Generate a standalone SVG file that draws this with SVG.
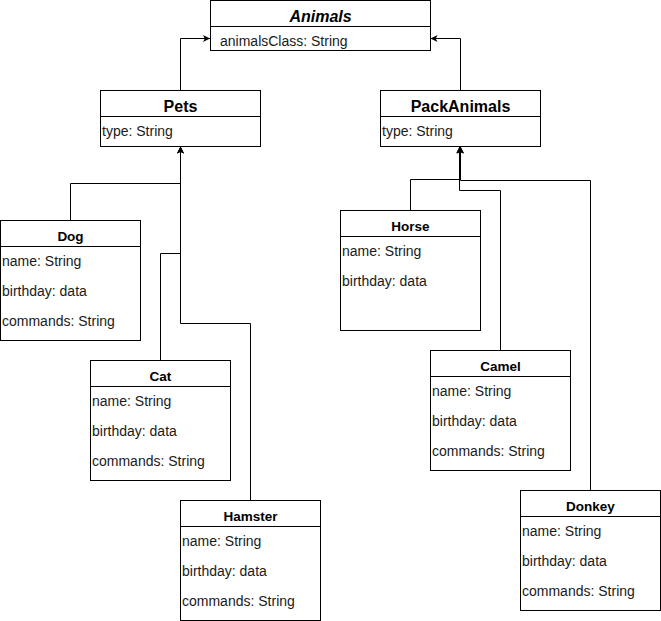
<svg xmlns="http://www.w3.org/2000/svg" width="661" height="621" viewBox="0 0 661 621">
<style>
.box{fill:#fff;stroke:#000;stroke-width:1}
.ln{fill:none;stroke:#000;stroke-width:1}
.t1{font-family:"Liberation Sans",Arial,sans-serif;font-size:16px;font-weight:bold;text-anchor:middle;fill:#000}
.t2{font-family:"Liberation Sans",Arial,sans-serif;font-size:13.5px;font-weight:bold;text-anchor:middle;fill:#000}
.a{font-family:"Liberation Sans",Arial,sans-serif;font-size:14px;fill:#1a1a1a}
.c{fill:none;stroke:#000;stroke-width:1;marker-end:url(#arr)}
</style>
<defs>
<marker id="arr" viewBox="0 0 10 10" refX="10" refY="5" markerWidth="7" markerHeight="7" markerUnits="userSpaceOnUse" orient="auto">
<path d="M0,0 L10,5 L0,10 L2.5,5 Z" fill="#000"/>
</marker>
</defs>
<g id="connectors">
<path class="c" d="M180.5,90 V38.5 H210"/>
<path class="c" d="M460.5,90 V38.5 H430.5"/>
<path class="c" d="M70.5,220 V183.5 H180.5 V146.5"/>
<path class="c" d="M160.5,360 V253.5 H180.5 V146.5"/>
<path class="c" d="M250.5,500 V323.5 H180.5 V146.5"/>
<path class="c" d="M410.5,210 V179.5 H460.5 V146.5"/>
<path class="c" d="M500.5,350 V190.5 H459.5 V146.5"/>
<path class="c" d="M590.5,490 V180.5 H460.5 V146.5"/>
</g>
<g id="Animals">
<rect class="box" x="210.5" y="0.5" width="220" height="50"/>
<line class="ln" x1="210.5" y1="26.5" x2="430.5" y2="26.5"/>
<text class="t1" x="320.5" y="22" font-style="italic">Animals</text>
<text class="a" x="220" y="46">animalsClass: String</text>
</g>
<g id="Pets">
<rect class="box" x="100.5" y="90.5" width="160" height="56"/>
<line class="ln" x1="100.5" y1="116.5" x2="260.5" y2="116.5"/>
<text class="t1" x="180.5" y="112">Pets</text>
<text class="a" x="102" y="136">type: String</text>
</g>
<g id="PackAnimals">
<rect class="box" x="380.5" y="90.5" width="160" height="56"/>
<line class="ln" x1="380.5" y1="116.5" x2="540.5" y2="116.5"/>
<text class="t1" x="460.5" y="112">PackAnimals</text>
<text class="a" x="382" y="136">type: String</text>
</g>
<g id="Dog">
<rect class="box" x="0.5" y="220.5" width="140" height="120"/>
<line class="ln" x1="0.5" y1="246.5" x2="140.5" y2="246.5"/>
<text class="t2" x="70.5" y="241">Dog</text>
<text class="a" x="2" y="266">name: String</text>
<text class="a" x="2" y="296">birthday: data</text>
<text class="a" x="2" y="326">commands: String</text>
</g>
<g id="Cat">
<rect class="box" x="90.5" y="360.5" width="140" height="120"/>
<line class="ln" x1="90.5" y1="386.5" x2="230.5" y2="386.5"/>
<text class="t2" x="160.5" y="381">Cat</text>
<text class="a" x="92" y="406">name: String</text>
<text class="a" x="92" y="436">birthday: data</text>
<text class="a" x="92" y="466">commands: String</text>
</g>
<g id="Hamster">
<rect class="box" x="180.5" y="500.5" width="140" height="120"/>
<line class="ln" x1="180.5" y1="526.5" x2="320.5" y2="526.5"/>
<text class="t2" x="250.5" y="521">Hamster</text>
<text class="a" x="182" y="546">name: String</text>
<text class="a" x="182" y="576">birthday: data</text>
<text class="a" x="182" y="606">commands: String</text>
</g>
<g id="Horse">
<rect class="box" x="340.5" y="210.5" width="140" height="120"/>
<line class="ln" x1="340.5" y1="236.5" x2="480.5" y2="236.5"/>
<text class="t2" x="410.5" y="231">Horse</text>
<text class="a" x="342" y="256">name: String</text>
<text class="a" x="342" y="286">birthday: data</text>
</g>
<g id="Camel">
<rect class="box" x="430.5" y="350.5" width="140" height="120"/>
<line class="ln" x1="430.5" y1="376.5" x2="570.5" y2="376.5"/>
<text class="t2" x="500.5" y="371">Camel</text>
<text class="a" x="432" y="396">name: String</text>
<text class="a" x="432" y="426">birthday: data</text>
<text class="a" x="432" y="456">commands: String</text>
</g>
<g id="Donkey">
<rect class="box" x="520.5" y="490.5" width="140" height="120"/>
<line class="ln" x1="520.5" y1="516.5" x2="660.5" y2="516.5"/>
<text class="t2" x="590.5" y="511">Donkey</text>
<text class="a" x="522" y="536">name: String</text>
<text class="a" x="522" y="566">birthday: data</text>
<text class="a" x="522" y="596">commands: String</text>
</g>
</svg>
